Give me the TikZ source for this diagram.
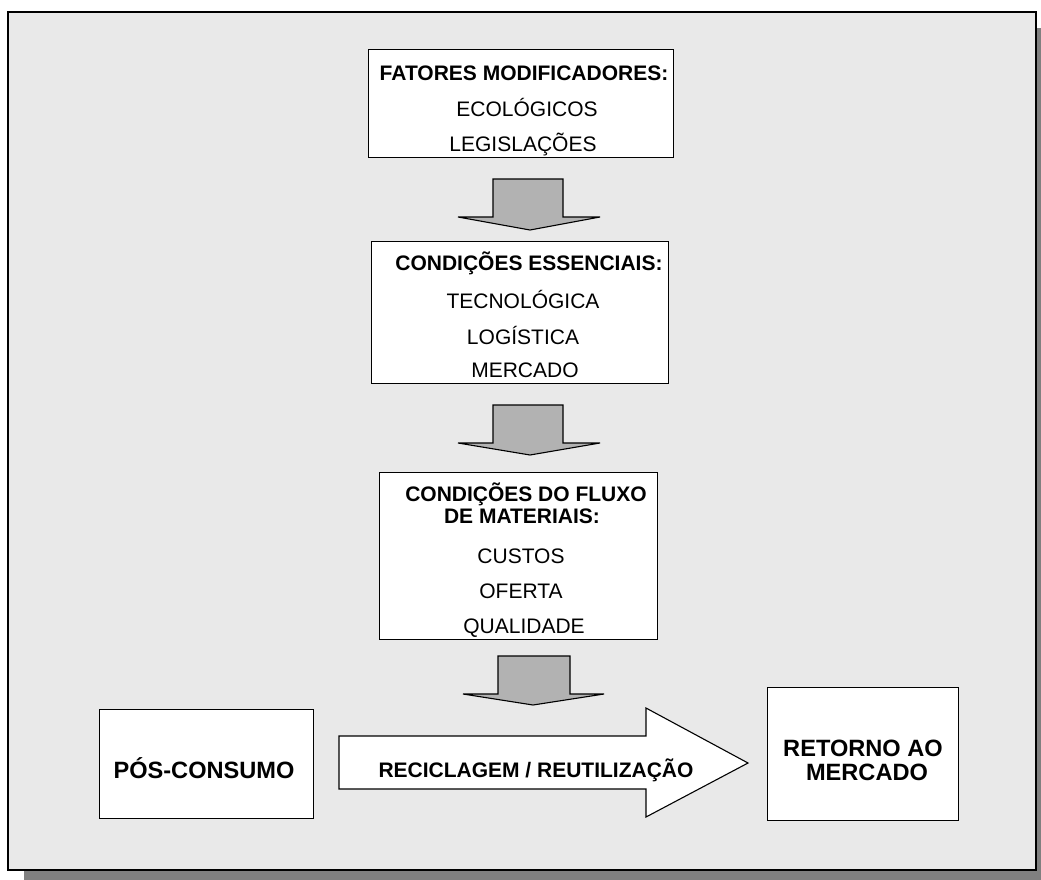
\documentclass[tikz,border=0pt]{standalone}
\usepackage{fontspec}
\setmainfont{Liberation Sans}
\definecolor{panelgray}{RGB}{233,233,233}
\definecolor{shadowgray}{RGB}{128,128,128}
\definecolor{arrowgray}{RGB}{178,178,178}
\begin{document}
\begin{tikzpicture}[x=1pt,y=-1pt,
  framestyle/.style={draw=black, line width=1.5pt, fill=panelgray},
  boxstyle/.style={draw=black, line width=1.4pt, fill=white, inner sep=0pt, anchor=north west},
  downarrow/.style={draw=black, line width=1.1pt, fill=arrowgray, line join=miter},
  bigarrow/.style={draw=black, line width=1.1pt, fill=white, line join=miter},
  headtxt/.style={anchor=base, inner sep=0pt, font=\fontsize{21}{21}\selectfont\bfseries},
  itemtxt/.style={anchor=base, inner sep=0pt, font=\fontsize{21}{21}\selectfont},
  bigtxt/.style={anchor=base, inner sep=0pt, font=\fontsize{23.6}{23.6}\selectfont\bfseries}]
\useasboundingbox (0,0) rectangle (1041,879);

% panel with drop shadow
\fill[shadowgray] (24,28) rectangle (1056,890);
\draw[framestyle] (8,12) rectangle (1036,870);

% modifying factors
\node[boxstyle, minimum width=305pt, minimum height=108pt] (fatores) at (368,49) {};
\node[headtxt] (fatoresA) at (524,80) {FATORES MODIFICADORES:};
\node[itemtxt] (fatoresB) at (527,116) {ECOLÓGICOS};
\node[itemtxt] (fatoresC) at (523,151) {LEGISLAÇÕES};

% essential conditions
\node[boxstyle, minimum width=297pt, minimum height=142pt] (essenciais) at (371,241) {};
\node[headtxt] (essA) at (529,270) {CONDIÇÕES ESSENCIAIS:};
\node[itemtxt] (essB) at (523,308) {TECNOLÓGICA};
\node[itemtxt] (essC) at (523,344) {LOGÍSTICA};
\node[itemtxt] (essD) at (525,377) {MERCADO};

% material flow conditions
\node[boxstyle, minimum width=278pt, minimum height=167pt] (fluxo) at (379,472) {};
\node[headtxt] (fluxoA) at (526,501) {CONDIÇÕES DO FLUXO};
\node[headtxt] (fluxoB) at (522,523) {DE MATERIAIS:};
\node[itemtxt] (fluxoC) at (521,563) {CUSTOS};
\node[itemtxt] (fluxoD) at (521,598) {OFERTA};
\node[itemtxt] (fluxoE) at (524,633) {QUALIDADE};

% downward block arrows
\draw[downarrow] (493,179) -- (563,179) -- (563,217) -- (600,217) -- (530,230) -- (458,217) -- (493,217) -- cycle;
\draw[downarrow] (493,405) -- (563,405) -- (563,443) -- (600,443) -- (530,455) -- (458,443) -- (493,443) -- cycle;
\draw[downarrow] (498,656) -- (570,656) -- (570,694) -- (604,694) -- (533,705) -- (463,694) -- (498,694) -- cycle;

% bottom row
\node[boxstyle, minimum width=214pt, minimum height=109pt] (pos) at (99,709) {};
\node[bigtxt] (posT) at (204,778) {PÓS-CONSUMO};

\draw[bigarrow] (339,736) -- (646,736) -- (646,708) -- (748,763) -- (646,817) -- (646,789) -- (339,789) -- cycle;
\node[headtxt] (recicla) at (536,777) {RECICLAGEM / REUTILIZAÇÃO};

\node[boxstyle, minimum width=191pt, minimum height=133pt] (retorno) at (767,687) {};
\node[bigtxt] (retornoA) at (863,756) {RETORNO AO};
\node[bigtxt] (retornoB) at (867,780) {MERCADO};
\end{tikzpicture}
\end{document}
